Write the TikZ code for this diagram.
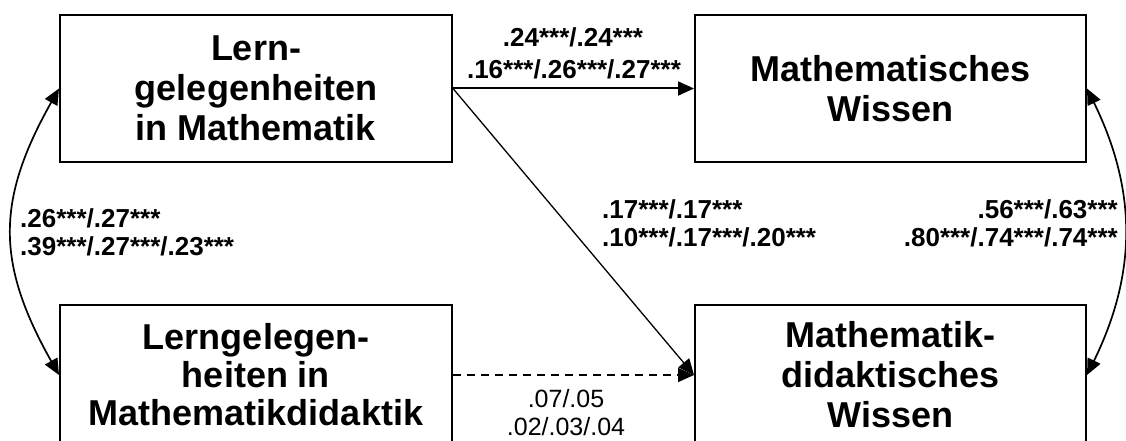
\documentclass[tikz,border=0pt]{standalone}
\usepackage{fontspec}
\setmainfont{Liberation Sans}
\usetikzlibrary{arrows.meta}
\begin{document}
\begin{tikzpicture}[x=1pt,y=-1pt,
  box/.style={draw, line width=2pt, inner sep=0pt, align=center,
    font=\fontsize{36}{40}\selectfont\bfseries},
  topbox/.style={box, minimum width=392pt, minimum height=147pt},
  botbox/.style={box, minimum width=392pt, minimum height=140pt},
  lab/.style={font=\fontsize{26}{30}\selectfont\bfseries, inner sep=0pt},
  labr/.style={font=\fontsize{25}{30}\selectfont, inner sep=0pt},
  tip/.style={-{Triangle[length=16pt,width=14pt]}},
  tips/.style={{Triangle[length=16pt,width=14pt]}-{Triangle[length=16pt,width=14pt]}}]
\useasboundingbox (0,0) rectangle (1126,441);
\clip (0,0) rectangle (1126,441);
\fill[white] (0,0) rectangle (1126,441);

\node[topbox] (b1) at (256,88.5) {Lern-\\gelegenheiten\\in Mathematik};
\node[topbox, minimum width=391pt] (b2) at (890.5,88.5) {Mathematisches\\Wissen};
\node[botbox, font=\fontsize{36}{38}\selectfont\bfseries] (b3) at (256,375) {Lerngelegen-\\heiten in\\Mathematikdidaktik};
\node[botbox, minimum width=391pt] (b4) at (890.5,375) {Mathematik-\\didaktisches\\Wissen};

\draw[tip, line width=2pt] (b1.east) -- (b2.west);
\draw[tip, line width=1.3pt] (b1.east) -- (b4.west);
\draw[tip, line width=1.5pt, dash pattern=on 8pt off 6pt] (b3.east) -- (b4.west);
\draw[tips, line width=1.7pt] (b1.west) .. controls +(-63,112) and +(-63,-112) .. (b3.west);
\draw[tips, line width=1.7pt] (b2.east) .. controls +(50,102) and +(50,-102) .. (b4.east);

\node[lab, anchor=base] (t1) at (573,47) {.24***/.24***};
\node[lab, anchor=base] (t2) at (574,79) {.16***/.26***/.27***};
\node[lab, anchor=base west] (m1) at (602,218) {.17***/.17***};
\node[lab, anchor=base west] (m2) at (602,246) {.10***/.17***/.20***};
\node[lab, anchor=base west] (l1) at (20,227) {.26***/.27***};
\node[lab, anchor=base west] (l2) at (20,255) {.39***/.27***/.23***};
\node[lab, anchor=base east] (r1) at (1118,218) {.56***/.63***};
\node[lab, anchor=base east] (r2) at (1118,246) {.80***/.74***/.74***};
\node[labr, anchor=base] (d1) at (566,407) {.07/.05};
\node[labr, anchor=base] (d2) at (566,435) {.02/.03/.04};
\end{tikzpicture}
\end{document}
